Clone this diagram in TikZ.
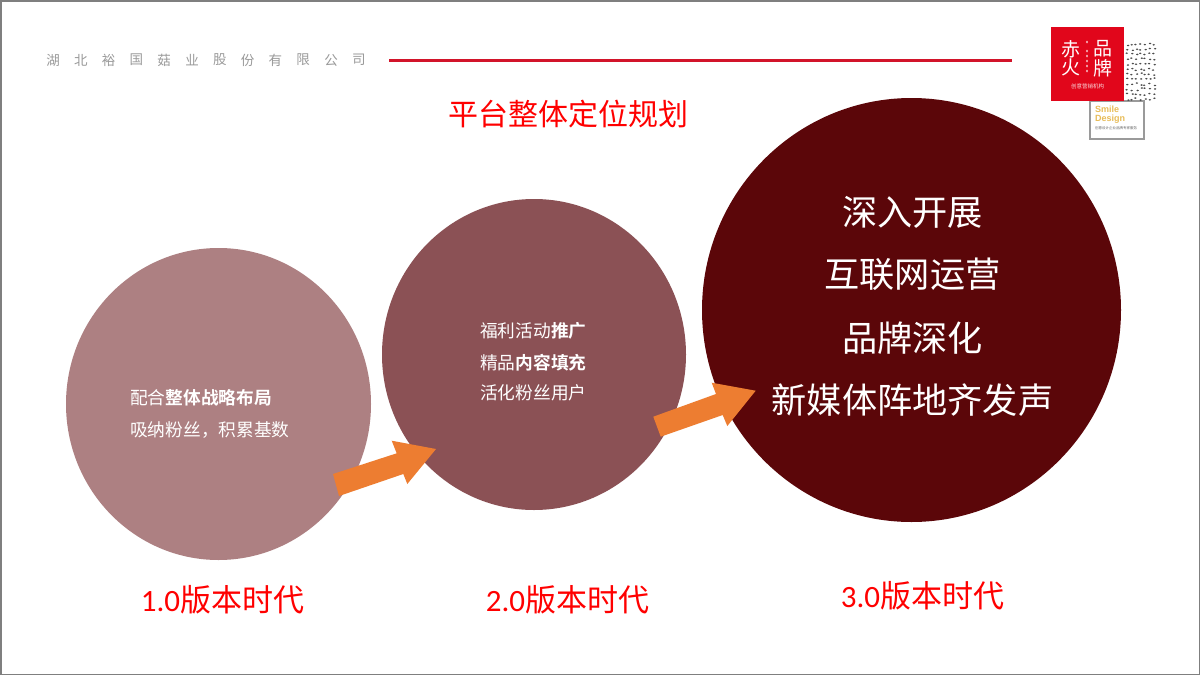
\documentclass[tikz,border=0pt]{standalone}
\usepackage{fontspec}
\setmainfont{Noto Sans CJK SC}
\newfontfamily\boldcjk{Noto Sans CJK SC Bold}
\newfontfamily\latinsans{Liberation Sans}
\newfontfamily\digitfont{Carlito}
\definecolor{cone}{HTML}{AD8082}
\definecolor{ctwo}{HTML}{8B5155}
\definecolor{cthree}{HTML}{5B0609}
\definecolor{arrowor}{HTML}{ED7D31}
\definecolor{titlered}{HTML}{FF0000}
\definecolor{rulered}{HTML}{D2142A}
\definecolor{logored}{HTML}{E1061B}
\definecolor{headgray}{HTML}{9A9A9A}
\definecolor{framegray}{HTML}{7F7F7F}
\definecolor{smileor}{HTML}{E8BC58}
\tikzset{
  x=1pt,y=-1pt,
  bigtxt/.style={text=titlered,font=\fontsize{31}{31}\selectfont,inner sep=0pt},
  inner/.style={text=white,font=\fontsize{17.7}{32}\selectfont,align=left,inner sep=0pt},
  flow/.style={fill=arrowor,draw=none},
  headchar/.style={text=headgray,font=\fontsize{13.5}{14}\selectfont,inner sep=0pt},
  logochar/.style={text=white,font=\fontsize{19}{19}\selectfont,inner sep=0pt},
}
\begin{document}
\begin{tikzpicture}
\useasboundingbox (0,0) rectangle (1200,675);
\fill[white] (0,0) rectangle (1200,675);
% header
\foreach \c [count=\i from 0] in {湖,北,裕,国,菇,业,股,份,有,限,公,司}
  \node[headchar] at ({53+\i*27.8},60) {\c};
\coordinate (ruleA) at (389,60);
\coordinate (ruleB) at (1012,60);
\draw[rulered,line width=3pt] (ruleA) -- (ruleB);
\node[text=titlered,font=\fontsize{30}{30}\selectfont,inner sep=0pt] (title) at (568,114) {平台整体定位规划};
% bubbles
\fill[cone] (218.5,404) ellipse [x radius=152.5,y radius=156];
\fill[ctwo] (534,354.5) ellipse [x radius=152,y radius=155.5];
\fill[cthree] (911.5,310) ellipse [x radius=209.5,y radius=212];
% arrows
\fill[flow] (333,474) -- (396.7,453.3) -- (391.7,440.7) -- (436,449) -- (407.3,484) -- (403.3,474) -- (339,496) -- cycle;
\fill[flow] (653.3,416.7) -- (716,394) -- (711.7,382.7) -- (755.7,390.7) -- (727.3,426) -- (722.7,415) -- (660.7,436.7) -- cycle;
% bubble texts
\node[inner,anchor=west] (t1a) at (130,398) {配合{\boldcjk 整体战略布局}};
\node[inner,anchor=west] (t1b) at (130,430) {吸纳粉丝，积累基数};
\node[inner,anchor=west] (t2a) at (480,331) {福利活动{\boldcjk 推广}};
\node[inner,anchor=west] (t2b) at (480,363) {精品{\boldcjk 内容填充}};
\node[inner,anchor=west] (t2c) at (480,393) {活化粉丝用户};
\foreach \y/\s in {212/深入开展,274/互联网运营,338/品牌深化,400/新媒体阵地齐发声}
  \node[text=white,font=\fontsize{35.2}{35}\selectfont,inner sep=0pt] at (912.5,\y) {\s};
% captions
\node[bigtxt] (v1) at (222.5,600) {{\digitfont 1.0}版本时代};
\node[bigtxt] (v2) at (567.5,600) {{\digitfont 2.0}版本时代};
\node[bigtxt] (v3) at (922.5,596) {{\digitfont 3.0}版本时代};
% logo
\fill[white,draw=headgray,line width=2.2pt] (1090,101) rectangle (1144,139);
\fill[logored] (1051,27) rectangle (1124,101);
\pgfmathsetseed{11}
\foreach \r in {0,...,11}{
  \foreach \c in {0,...,6}{
    \pgfmathsetmacro{\dx}{1126.5+\c*4.4+rnd*2.4}
    \pgfmathsetmacro{\dy}{43+\r*5+rnd*2.6}
    \fill[black!70] (\dx,\dy) ellipse [x radius=1.3,y radius=.85];
  }
}
\node[logochar] at (1071,49) {赤};
\node[logochar] at (1071,67) {火};
\node[logochar] at (1103,49) {品};
\node[logochar] at (1103,68.5) {牌};
\foreach \y in {42,51,56,61,66,71}
  \fill[white!70!logored] (1087,\y) ellipse [x radius=1.1,y radius=1.5];
\node[text=white!85!logored,font=\fontsize{5.5}{5.5}\selectfont,inner sep=0pt] at (1087.5,86) {创意营销机构};
\node[text=smileor,font=\latinsans\bfseries\fontsize{9}{8.5}\selectfont,align=left,anchor=west,inner sep=0pt] at (1095,114.5) {Smile\\Design};
\node[text=black!60,font=\fontsize{3.5}{3.5}\selectfont,inner sep=0pt] at (1116,128) {创意设计企业品牌专家服务};
% frame
\draw[framegray,line width=3pt] (0,0) rectangle (1200,675);
\end{tikzpicture}
\end{document}
